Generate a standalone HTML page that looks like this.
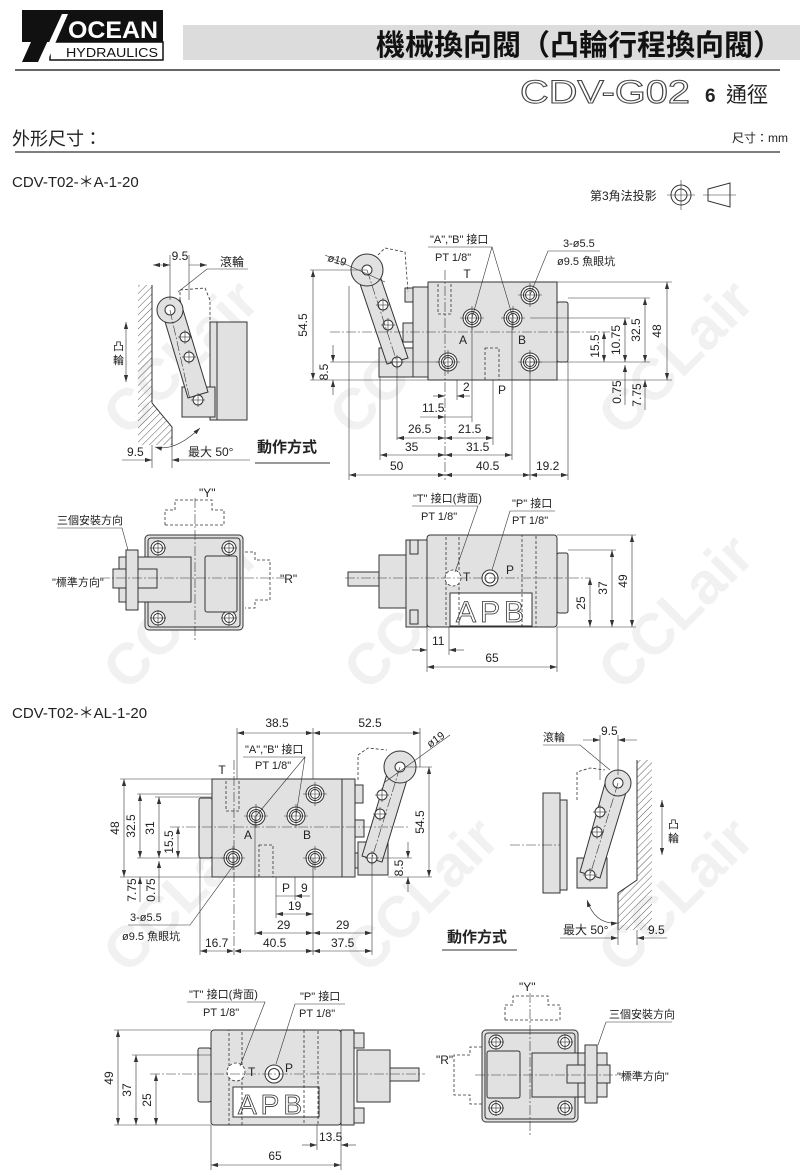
<!DOCTYPE html>
<html><head><meta charset="utf-8"><style>
html,body{margin:0;padding:0;background:#fff}
svg{display:block}
text{font-family:"Liberation Sans","Noto Sans CJK TC",sans-serif;fill:#222}
.o{fill:none;stroke:#333;stroke-width:1}
.g{fill:#e1e1e1;stroke:#333;stroke-width:1}
.w{fill:#fff;stroke:#333;stroke-width:1}
.d{fill:none;stroke:#333;stroke-width:.8;stroke-dasharray:3 2}
.c{fill:none;stroke:#333;stroke-width:.6;stroke-dasharray:10 2 2 2}
.t{fill:none;stroke:#333;stroke-width:.6}
.m{fill:none;stroke:#333;stroke-width:.6;marker-start:url(#a);marker-end:url(#a)}
.wm{font-family:"Liberation Sans",sans-serif;font-weight:bold;font-size:58px;fill:#f1f1f1}
.s{font-size:11px}
.s12{font-size:12px}
</style></head><body>
<svg width="800" height="1175" viewBox="0 0 800 1175" xmlns="http://www.w3.org/2000/svg">
<defs>
<marker id="a" viewBox="0 0 10 10" refX="10" refY="5" markerWidth="7" markerHeight="7" orient="auto-start-reverse" markerUnits="userSpaceOnUse"><path d="M0,2 L10,5 L0,8 z" fill="#333"/></marker>
<pattern id="h" width="5" height="5" patternUnits="userSpaceOnUse" patternTransform="rotate(45)"><line x1="0" y1="0" x2="0" y2="5" stroke="#333" stroke-width=".8"/></pattern>
<g id="port"><circle r="9" class="w"/><circle r="6.5" class="o"/><circle r="4.5" class="o"/><line x1="-12" y1="0" x2="12" y2="0" class="t"/><line x1="0" y1="-12" x2="0" y2="12" class="t"/></g>
<g id="bolt"><circle r="7" class="w"/><circle r="4.5" class="o"/><line x1="-8" y1="0" x2="8" y2="0" class="t"/><line x1="0" y1="-8" x2="0" y2="8" class="t"/></g>
<g id="pin"><circle r="5" class="w"/><line x1="-7" y1="0" x2="7" y2="0" class="t"/><line x1="0" y1="-7" x2="0" y2="7" class="t"/></g>
</defs>

<!-- watermarks -->
<g transform="rotate(-45)">
<text class="wm" x="-220" y="400">CCLair</text>
<text class="wm" x="-60" y="560">CCLair</text>
<text class="wm" x="130" y="750">CCLair</text>
<text class="wm" x="-400" y="580">CCLair</text>
<text class="wm" x="-230" y="750">CCLair</text>
<text class="wm" x="-50" y="930">CCLair</text>
<text class="wm" x="-600" y="780">CCLair</text>
<text class="wm" x="-430" y="950">CCLair</text>
<text class="wm" x="-250" y="1130">CCLair</text>
</g>

<!-- header -->
<rect x="22" y="10" width="141" height="32" fill="#111"/>
<polygon points="22,10 62,10 38,62 22,62 40,22 22,22" fill="#111"/>
<rect x="50" y="42" width="113" height="18" fill="#fff" stroke="#111" stroke-width="1.5"/>
<polygon points="40,62 62,14 68,14 47,62" fill="#fff"/>
<text x="68" y="38" textLength="90" lengthAdjust="spacingAndGlyphs" style="font-size:24px;font-weight:bold;fill:#fff">OCEAN</text>
<text x="66" y="57" textLength="92" lengthAdjust="spacingAndGlyphs" style="font-size:13px;fill:#111">HYDRAULICS</text>
<rect x="183" y="25" width="617" height="35" fill="#dcdcdc"/>
<text x="782" y="55" text-anchor="end" style="font-size:29px;font-weight:bold;fill:#111;font-family:'Noto Sans CJK TC',sans-serif">機械換向閥（凸輪行程換向閥）</text>
<line x1="15" y1="70" x2="780" y2="70" stroke="#333" stroke-width="1.5"/>
<text x="520" y="103" textLength="170" lengthAdjust="spacingAndGlyphs" style="font-size:32px;fill:#fff;stroke:#444;stroke-width:1">CDV-G02</text>
<text x="705" y="102" style="font-size:19px;font-weight:bold">6</text>
<text x="726" y="102" style="font-size:21px;font-family:'Noto Sans CJK TC',sans-serif">通徑</text>
<text x="12" y="145" style="font-size:18px;font-family:'Noto Sans CJK TC',sans-serif">外形尺寸：</text>
<text x="788" y="142" text-anchor="end" class="s12">尺寸：mm</text>
<line x1="15" y1="152" x2="780" y2="152" stroke="#333" stroke-width="1.2"/>

<text x="12" y="187" style="font-size:15px">CDV-T02-＊A-1-20</text>
<text x="590" y="200" class="s12">第3角法投影</text>
<circle cx="681" cy="195" r="10" class="o"/><circle cx="681" cy="195" r="6" class="o"/>
<line x1="667" y1="195" x2="695" y2="195" class="t"/><line x1="681" y1="180" x2="681" y2="210" class="t"/>
<polygon points="708,189 730,183 730,207 708,201" class="o"/>
<line x1="703" y1="195" x2="736" y2="195" class="t"/>

<!-- ===== Group 1 side view ===== -->
<polygon points="138,285 152,285 152,403 172,427 172,445 138,445" fill="url(#h)"/>
<polyline points="152,285 152,403 172,427 172,445" class="o"/>
<rect x="210" y="322" width="7" height="98" class="g"/>
<rect x="217" y="322" width="30" height="98" class="g"/>
<rect x="182" y="387" width="33" height="30" class="g"/>
<polygon points="160,305 180,300 208,392 188,398" class="g"/>
<circle cx="170" cy="310" r="13" class="g"/>
<circle cx="170" cy="310" r="5" class="w"/>
<use href="#pin" x="185" y="337"/><use href="#pin" x="189" y="357"/><use href="#pin" x="198" y="400"/>
<polyline points="180,300 180,290 205,288 210,300 210,322" class="d"/>
<line x1="170" y1="310" x2="190" y2="400" class="c"/>
<line x1="170" y1="255" x2="170" y2="300" class="t"/><line x1="189" y1="255" x2="189" y2="300" class="t"/>
<line x1="153" y1="265" x2="170" y2="265" class="m"/><line x1="189" y1="265" x2="207" y2="265" class="m" style="marker-start:none"/>
<text x="180" y="260" text-anchor="middle" class="s12">9.5</text>
<text x="220" y="266" class="s12">滾輪</text>
<polyline points="248,269 207,269 178,292" class="t"/>
<text x="113" y="350" class="s">凸</text><text x="113" y="364" class="s">輪</text>
<line x1="126" y1="322" x2="126" y2="382" class="m"/>
<line x1="152" y1="445" x2="152" y2="468" class="t"/><line x1="172" y1="445" x2="172" y2="468" class="t"/>
<line x1="122" y1="460" x2="152" y2="460" class="t" style="marker-end:url(#a)"/>
<line x1="172" y1="460" x2="250" y2="460" class="t" style="marker-start:url(#a)"/>
<text x="127" y="456" class="s12">9.5</text>
<text x="188" y="456" class="s12">最大 50°</text>
<path d="M155,447 Q175,452 200,428" class="t" style="marker-start:url(#a);marker-end:url(#a)"/>
<text x="257" y="452" style="font-size:15px;font-weight:bold">動作方式</text>
<line x1="255" y1="463" x2="330" y2="463" stroke="#333" stroke-width="1"/>

<!-- ===== Group 1 front view ===== -->
<rect x="428" y="282" width="129" height="98" class="g"/>
<rect x="557" y="302" width="11" height="60" rx="2" class="g"/>
<rect x="413" y="287" width="15" height="90" class="g"/>
<rect x="405" y="288" width="8" height="14" class="g"/><rect x="403" y="323" width="10" height="19" class="g"/><rect x="405" y="360" width="8" height="13" class="g"/>
<rect x="379" y="348" width="34" height="29" class="g"/>
<polygon points="357,275 378,270 408,358 387,364" class="g"/>
<circle cx="367" cy="270" r="16" class="g"/><circle cx="367" cy="270" r="5" class="w"/>
<use href="#pin" x="383" y="305"/><use href="#pin" x="388" y="325"/><use href="#pin" x="397" y="362"/>
<polyline points="378,255 385,248 405,252 408,292" class="d"/>
<line x1="367" y1="270" x2="397" y2="362" class="c"/>
<rect x="438" y="282" width="13" height="32" class="d"/><rect x="485" y="348" width="14" height="32" class="d"/>
<use href="#port" x="472" y="318"/><use href="#port" x="513" y="318"/>
<use href="#port" x="530" y="295"/><use href="#port" x="448" y="362"/><use href="#port" x="530" y="362"/>
<line x1="330" y1="332" x2="610" y2="332" class="c"/>
<line x1="445" y1="270" x2="445" y2="480" class="c"/>
<text x="467" y="278" text-anchor="middle" class="s12">T</text>
<text x="463" y="344" text-anchor="middle" class="s12">A</text>
<text x="522" y="344" text-anchor="middle" class="s12">B</text>
<text x="502" y="394" text-anchor="middle" class="s12">P</text>
<text x="430" y="243" class="s">"A","B" 接口</text>
<text x="435" y="261" class="s">PT 1/8"</text>
<polyline points="428,247 492,247 472,318" class="t"/><line x1="492" y1="247" x2="513" y2="318" class="t"/>
<text x="563" y="247" class="s">3-ø5.5</text>
<text x="557" y="265" class="s">ø9.5 魚眼坑</text>
<polyline points="600,251 548,251 530,295" class="t"/>
<text x="327" y="261" class="s" transform="rotate(15 327 261)">ø19</text>
<line x1="325" y1="255" x2="385" y2="282" class="t"/>
<line x1="310" y1="270" x2="367" y2="270" class="t"/><line x1="310" y1="380" x2="428" y2="380" class="t"/>
<line x1="330" y1="362" x2="440" y2="362" class="t"/>
<line x1="313" y1="270" x2="313" y2="380" class="m"/>
<text x="307" y="325" text-anchor="middle" class="s12" transform="rotate(-90 307 325)">54.5</text>
<line x1="333" y1="345" x2="333" y2="362" class="t" style="marker-end:url(#a)"/>
<line x1="333" y1="380" x2="333" y2="395" class="t" style="marker-start:url(#a)"/>
<text x="328" y="372" text-anchor="middle" class="s12" transform="rotate(-90 328 372)">8.5</text>
<line x1="557" y1="282" x2="672" y2="282" class="t"/><line x1="557" y1="380" x2="672" y2="380" class="t"/>
<line x1="568" y1="298" x2="650" y2="298" class="t"/><line x1="530" y1="318" x2="630" y2="318" class="t"/>
<line x1="530" y1="362" x2="650" y2="362" class="t"/>
<line x1="667" y1="282" x2="667" y2="380" class="m"/>
<text x="661" y="331" text-anchor="middle" class="s12" transform="rotate(-90 661 331)">48</text>
<line x1="645" y1="298" x2="645" y2="362" class="m"/>
<text x="640" y="330" text-anchor="middle" class="s12" transform="rotate(-90 640 330)">32.5</text>
<line x1="625" y1="318" x2="625" y2="362" class="m"/>
<text x="620" y="340" text-anchor="middle" class="s12" transform="rotate(-90 620 340)">10.75</text>
<line x1="604" y1="332" x2="604" y2="362" class="m"/>
<text x="599" y="346" text-anchor="middle" class="s12" transform="rotate(-90 599 346)">15.5</text>
<line x1="625" y1="365" x2="625" y2="405" class="t" style="marker-start:url(#a)"/>
<text x="621" y="392" text-anchor="middle" class="s12" transform="rotate(-90 621 392)">0.75</text>
<line x1="645" y1="380" x2="645" y2="410" class="t" style="marker-start:url(#a)"/>
<text x="641" y="395" text-anchor="middle" class="s12" transform="rotate(-90 641 395)">7.75</text>
<line x1="349" y1="286" x2="349" y2="480" class="t"/><line x1="380" y1="377" x2="380" y2="460" class="t"/>
<line x1="397" y1="362" x2="397" y2="440" class="t"/><line x1="457" y1="380" x2="457" y2="400" class="t"/>
<line x1="472" y1="318" x2="472" y2="422" class="t"/><line x1="493" y1="380" x2="493" y2="445" class="t"/>
<line x1="512" y1="318" x2="512" y2="460" class="t"/><line x1="530" y1="362" x2="530" y2="480" class="t"/>
<line x1="568" y1="362" x2="568" y2="480" class="t"/>
<line x1="433" y1="396" x2="445" y2="396" class="t" style="marker-end:url(#a)"/><line x1="457" y1="396" x2="470" y2="396" class="t" style="marker-start:url(#a)"/>
<text x="463" y="391" class="s12">2</text>
<line x1="420" y1="417" x2="445" y2="417" class="t" style="marker-end:url(#a)"/><line x1="445" y1="417" x2="472" y2="417" class="t"/>
<text x="422" y="412" class="s12">11.5</text>
<line x1="397" y1="438" x2="445" y2="438" class="m"/><line x1="445" y1="438" x2="493" y2="438" class="m"/>
<text x="408" y="433" class="s12">26.5</text><text x="458" y="433" class="s12">21.5</text>
<line x1="380" y1="455" x2="445" y2="455" class="m"/><line x1="445" y1="455" x2="512" y2="455" class="m"/>
<text x="405" y="451" class="s12">35</text><text x="466" y="451" class="s12">31.5</text>
<line x1="349" y1="475" x2="445" y2="475" class="m"/><line x1="445" y1="475" x2="530" y2="475" class="m"/><line x1="530" y1="475" x2="568" y2="475" class="m"/>
<text x="390" y="470" class="s12">50</text><text x="476" y="470" class="s12">40.5</text><text x="536" y="470" class="s12">19.2</text>

<!-- ===== Group 1 bottom-left view ===== -->
<rect x="145" y="535" width="98" height="95" rx="4" class="g"/>
<rect x="148" y="538" width="92" height="89" rx="3" class="o"/>
<use href="#bolt" x="158" y="548"/><use href="#bolt" x="229" y="548"/><use href="#bolt" x="158" y="618"/><use href="#bolt" x="229" y="618"/>
<rect x="205" y="556" width="32" height="56" rx="2" class="g"/>
<rect x="119" y="557" width="72" height="45" class="g"/>
<rect x="113" y="569" width="44" height="19" class="g"/>
<rect x="126" y="550" width="12" height="60" class="g"/>
<polyline points="165,525 165,510 175,510 175,500 212,500 212,510 224,510 224,525" class="d"/>
<line x1="165" y1="525" x2="224" y2="525" class="d"/>
<polyline points="245,552 255,552 255,560 270,560 270,600 255,600 255,608 245,608" class="d"/>
<line x1="195" y1="498" x2="195" y2="640" class="c"/>
<line x1="100" y1="578" x2="285" y2="578" class="c"/>
<text x="199" y="497" class="s12">"Y"</text>
<text x="280" y="583" class="s12">"R"</text>
<text x="57" y="524" class="s">三個安裝方向</text>
<polyline points="57,528 122,528 128,550" class="t"/>
<text x="52" y="586" class="s">"標準方向"</text>

<!-- ===== Group 1 bottom-right view ===== -->
<rect x="427" y="535" width="130" height="92" rx="3" class="g"/>
<rect x="557" y="553" width="11" height="60" rx="2" class="g"/>
<rect x="379" y="555" width="32" height="53" class="g"/>
<rect x="406" y="540" width="21" height="87" class="g"/>
<rect x="410" y="540" width="8" height="14" class="g"/><rect x="410" y="610" width="8" height="14" class="g"/>
<rect x="348" y="572" width="31" height="14" class="g"/>
<rect x="450" y="593" width="82" height="33" class="w"/>
<text x="456" y="622" style="font-size:30px;fill:#fff;stroke:#333;stroke-width:.8;letter-spacing:4px">APB</text>
<rect x="446" y="535" width="13" height="92" class="d"/><rect x="522" y="535" width="14" height="92" class="d"/>
<circle cx="453" cy="578" r="8" class="d" style="fill:#fff"/>
<circle cx="490" cy="578" r="8" class="w"/><circle cx="490" cy="578" r="5" class="o"/>
<line x1="345" y1="578" x2="590" y2="578" class="c"/>
<text x="463" y="581" class="s12">T</text><text x="506" y="574" class="s12">P</text>
<text x="413" y="502" class="s">"T" 接口(背面)</text>
<text x="421" y="520" class="s">PT 1/8"</text>
<polyline points="412,506 478,506 455,572" class="t"/>
<text x="512" y="507" class="s">"P" 接口</text>
<text x="512" y="524" class="s">PT 1/8"</text>
<polyline points="555,511 510,511 492,570" class="t"/>
<line x1="557" y1="535" x2="636" y2="535" class="t"/><line x1="568" y1="550" x2="616" y2="550" class="t"/>
<line x1="557" y1="627" x2="636" y2="627" class="t"/>
<line x1="632" y1="535" x2="632" y2="627" class="m"/>
<text x="627" y="581" text-anchor="middle" class="s12" transform="rotate(-90 627 581)">49</text>
<line x1="612" y1="550" x2="612" y2="627" class="m"/>
<text x="607" y="588" text-anchor="middle" class="s12" transform="rotate(-90 607 588)">37</text>
<line x1="590" y1="578" x2="590" y2="627" class="m"/>
<text x="585" y="603" text-anchor="middle" class="s12" transform="rotate(-90 585 603)">25</text>
<line x1="427" y1="627" x2="427" y2="672" class="t"/><line x1="449" y1="627" x2="449" y2="655" class="t"/><line x1="557" y1="627" x2="557" y2="672" class="t"/>
<line x1="412" y1="650" x2="427" y2="650" class="t" style="marker-end:url(#a)"/><line x1="449" y1="650" x2="464" y2="650" class="t" style="marker-start:url(#a)"/>
<text x="432" y="645" class="s12">11</text>
<line x1="427" y1="667" x2="557" y2="667" class="m"/>
<text x="492" y="662" text-anchor="middle" class="s12">65</text>

<!-- ===== Group 2 ===== -->
<text x="12" y="718" style="font-size:15px">CDV-T02-＊AL-1-20</text>
<rect x="212" y="779" width="130" height="98" class="g"/>
<rect x="199" y="798" width="13" height="60" rx="2" class="g"/>
<rect x="342" y="779" width="13" height="98" class="g"/>
<rect x="355" y="785" width="8" height="18" class="g"/><rect x="355" y="820" width="9" height="17" class="g"/><rect x="355" y="853" width="8" height="15" class="g"/>
<rect x="358" y="842" width="30" height="33" class="g"/>
<polygon points="390,764 410,770 382,862 362,856" class="g"/>
<circle cx="400" cy="767" r="16" class="g"/><circle cx="400" cy="767" r="5" class="w"/>
<use href="#pin" x="382" y="795"/><use href="#pin" x="380" y="814"/><use href="#pin" x="372" y="858"/>
<polyline points="358,780 358,755 368,748 387,750" class="d"/>
<line x1="400" y1="767" x2="372" y2="858" class="c"/>
<rect x="226" y="779" width="13" height="32" class="d"/><rect x="259" y="845" width="14" height="32" class="d"/>
<use href="#port" x="256" y="816"/><use href="#port" x="296" y="816"/>
<use href="#port" x="315" y="794"/><use href="#port" x="233" y="858"/><use href="#port" x="315" y="858"/>
<line x1="170" y1="827" x2="410" y2="827" class="c"/>
<line x1="234" y1="760" x2="234" y2="955" class="c"/>
<text x="222" y="774" text-anchor="middle" class="s12">T</text>
<text x="248" y="839" text-anchor="middle" class="s12">A</text>
<text x="307" y="839" text-anchor="middle" class="s12">B</text>
<text x="245" y="753" class="s">"A","B" 接口</text>
<text x="255" y="769" class="s">PT 1/8"</text>
<polyline points="243,757 305,757 256,816" class="t"/><line x1="305" y1="757" x2="296" y2="816" class="t"/>
<line x1="237" y1="728" x2="237" y2="779" class="t"/><line x1="313" y1="728" x2="313" y2="779" class="t"/><line x1="420" y1="728" x2="420" y2="767" class="t"/>
<line x1="237" y1="733" x2="313" y2="733" class="m"/><line x1="313" y1="733" x2="420" y2="733" class="m"/>
<text x="277" y="727" text-anchor="middle" class="s12">38.5</text><text x="370" y="727" text-anchor="middle" class="s12">52.5</text>
<text x="430" y="748" class="s" transform="rotate(-35 430 748)">ø19</text>
<line x1="385" y1="782" x2="450" y2="735" class="t"/>
<line x1="120" y1="779" x2="212" y2="779" class="t"/><line x1="120" y1="877" x2="212" y2="877" class="t"/>
<line x1="137" y1="794" x2="212" y2="794" class="t"/><line x1="155" y1="797" x2="212" y2="797" class="t"/>
<line x1="137" y1="858" x2="240" y2="858" class="t"/>
<line x1="124" y1="779" x2="124" y2="877" class="m"/>
<text x="119" y="828" text-anchor="middle" class="s12" transform="rotate(-90 119 828)">48</text>
<line x1="140" y1="794" x2="140" y2="858" class="m"/>
<text x="135" y="826" text-anchor="middle" class="s12" transform="rotate(-90 135 826)">32.5</text>
<line x1="159" y1="797" x2="159" y2="858" class="m"/>
<text x="154" y="828" text-anchor="middle" class="s12" transform="rotate(-90 154 828)">31</text>
<line x1="178" y1="827" x2="178" y2="858" class="m"/>
<text x="173" y="842" text-anchor="middle" class="s12" transform="rotate(-90 173 842)">15.5</text>
<line x1="140" y1="877" x2="140" y2="902" class="t" style="marker-start:url(#a)"/>
<text x="136" y="890" text-anchor="middle" class="s12" transform="rotate(-90 136 890)">7.75</text>
<line x1="159" y1="861" x2="159" y2="902" class="t" style="marker-start:url(#a)"/>
<text x="155" y="890" text-anchor="middle" class="s12" transform="rotate(-90 155 890)">0.75</text>
<text x="130" y="921" class="s">3-ø5.5</text>
<text x="122" y="940" class="s">ø9.5 魚眼坑</text>
<polyline points="128,925 190,925 233,866" class="t"/>
<line x1="405" y1="767" x2="432" y2="767" class="t"/><line x1="388" y1="877" x2="432" y2="877" class="t"/>
<line x1="380" y1="858" x2="412" y2="858" class="t"/>
<line x1="429" y1="767" x2="429" y2="877" class="m"/>
<text x="424" y="822" text-anchor="middle" class="s12" transform="rotate(-90 424 822)">54.5</text>
<line x1="408" y1="842" x2="408" y2="858" class="t" style="marker-end:url(#a)"/>
<line x1="408" y1="877" x2="408" y2="892" class="t" style="marker-start:url(#a)"/>
<text x="403" y="868" text-anchor="middle" class="s12" transform="rotate(-90 403 868)">8.5</text>
<line x1="200" y1="858" x2="200" y2="955" class="t"/><line x1="255" y1="816" x2="255" y2="935" class="t"/>
<line x1="276" y1="877" x2="276" y2="918" class="t"/><line x1="295" y1="877" x2="295" y2="900" class="t"/>
<line x1="313" y1="858" x2="313" y2="955" class="t"/><line x1="372" y1="858" x2="372" y2="955" class="t"/>
<line x1="276" y1="896" x2="295" y2="896" class="t"/><line x1="295" y1="896" x2="310" y2="896" class="t" style="marker-start:url(#a)"/>
<text x="282" y="892" class="s12">P</text><text x="301" y="892" class="s12">9</text>
<line x1="276" y1="914" x2="313" y2="914" class="m"/><text x="288" y="910" class="s12">19</text>
<line x1="255" y1="933" x2="313" y2="933" class="m"/><line x1="313" y1="933" x2="372" y2="933" class="m"/>
<text x="277" y="929" class="s12">29</text><text x="336" y="929" class="s12">29</text>
<line x1="200" y1="951" x2="234" y2="951" class="m"/><line x1="234" y1="951" x2="313" y2="951" class="m"/><line x1="313" y1="951" x2="372" y2="951" class="m"/>
<text x="205" y="947" class="s12">16.7</text><text x="263" y="947" class="s12">40.5</text><text x="331" y="947" class="s12">37.5</text>
<text x="447" y="942" style="font-size:15px;font-weight:bold">動作方式</text>
<line x1="442" y1="950" x2="517" y2="950" stroke="#333" stroke-width="1"/>

<!-- group 2 side view -->
<polygon points="637,760 652,760 652,930 618,930 618,893 637,880" fill="url(#h)"/>
<polyline points="637,760 637,880 618,893 618,930" class="o"/>
<rect x="543" y="793" width="17" height="100" class="g"/>
<rect x="560" y="800" width="7" height="90" class="g"/>
<rect x="577" y="858" width="30" height="30" class="g"/>
<polygon points="606,780 628,786 600,878 580,872" class="g"/>
<circle cx="618" cy="783" r="13" class="g"/><circle cx="618" cy="783" r="5" class="w"/>
<use href="#pin" x="600" y="812"/><use href="#pin" x="597" y="832"/><use href="#pin" x="590" y="875"/>
<polyline points="577,800 577,772 590,768 605,770" class="d"/>
<line x1="618" y1="783" x2="590" y2="875" class="c"/>
<line x1="510" y1="845" x2="560" y2="845" class="c"/>
<line x1="600" y1="735" x2="600" y2="780" class="t"/><line x1="618" y1="735" x2="618" y2="775" class="t"/>
<line x1="583" y1="740" x2="600" y2="740" class="t" style="marker-end:url(#a)"/><line x1="618" y1="740" x2="637" y2="740" class="t" style="marker-start:url(#a)"/>
<text x="601" y="735" class="s12">9.5</text>
<text x="543" y="741" class="s">滾輪</text>
<polyline points="543,745 580,745 610,770" class="t"/>
<text x="668" y="828" class="s">凸</text><text x="668" y="842" class="s">輪</text>
<line x1="662" y1="800" x2="662" y2="855" class="m"/>
<line x1="618" y1="930" x2="618" y2="945" class="t"/><line x1="637" y1="930" x2="637" y2="945" class="t"/>
<line x1="560" y1="938" x2="618" y2="938" class="t" style="marker-end:url(#a)"/>
<line x1="637" y1="938" x2="667" y2="938" class="t" style="marker-start:url(#a)"/>
<text x="563" y="934" class="s12">最大 50°</text><text x="648" y="934" class="s12">9.5</text>
<path d="M587,900 Q595,925 618,923" class="t" style="marker-start:url(#a);marker-end:url(#a)"/>

<!-- group 2 bottom-left -->
<rect x="211" y="1030" width="130" height="95" rx="3" class="g"/>
<rect x="198" y="1048" width="13" height="54" rx="2" class="g"/>
<rect x="341" y="1030" width="13" height="95" class="g"/>
<rect x="354" y="1033" width="10" height="15" class="g"/><rect x="354" y="1108" width="10" height="15" class="g"/>
<rect x="357" y="1050" width="33" height="52" class="g"/>
<rect x="390" y="1068" width="29" height="13" class="g"/>
<rect x="233" y="1087" width="86" height="30" class="w"/>
<text x="238" y="1114" style="font-size:28px;fill:#fff;stroke:#333;stroke-width:.8;letter-spacing:4px">APB</text>
<rect x="229" y="1030" width="13" height="95" class="d"/><rect x="304" y="1030" width="14" height="95" class="d"/>
<circle cx="236" cy="1072" r="9" class="d" style="fill:#fff"/>
<circle cx="274" cy="1074" r="9" class="w"/><circle cx="274" cy="1074" r="5.5" class="o"/>
<line x1="150" y1="1074" x2="425" y2="1074" class="c"/>
<text x="248" y="1076" class="s12">T</text><text x="285" y="1072" class="s12">P</text>
<text x="189" y="998" class="s">"T" 接口(背面)</text>
<text x="203" y="1016" class="s">PT 1/8"</text>
<polyline points="187,1002 265,1002 240,1066" class="t"/>
<text x="300" y="1000" class="s">"P" 接口</text>
<text x="299" y="1017" class="s">PT 1/8"</text>
<polyline points="345,1004 295,1004 276,1064" class="t"/>
<line x1="114" y1="1030" x2="211" y2="1030" class="t"/><line x1="132" y1="1055" x2="211" y2="1055" class="t"/>
<line x1="114" y1="1125" x2="211" y2="1125" class="t"/>
<line x1="118" y1="1030" x2="118" y2="1125" class="m"/>
<text x="113" y="1078" text-anchor="middle" class="s12" transform="rotate(-90 113 1078)">49</text>
<line x1="136" y1="1055" x2="136" y2="1125" class="m"/>
<text x="131" y="1090" text-anchor="middle" class="s12" transform="rotate(-90 131 1090)">37</text>
<line x1="156" y1="1074" x2="156" y2="1125" class="m"/>
<text x="151" y="1100" text-anchor="middle" class="s12" transform="rotate(-90 151 1100)">25</text>
<line x1="211" y1="1125" x2="211" y2="1170" class="t"/><line x1="317" y1="1125" x2="317" y2="1150" class="t"/><line x1="341" y1="1125" x2="341" y2="1170" class="t"/>
<line x1="302" y1="1145" x2="317" y2="1145" class="t" style="marker-end:url(#a)"/><line x1="341" y1="1145" x2="356" y2="1145" class="t" style="marker-start:url(#a)"/>
<text x="319" y="1141" class="s12">13.5</text>
<line x1="211" y1="1165" x2="341" y2="1165" class="m"/>
<text x="275" y="1160" text-anchor="middle" class="s12">65</text>

<!-- group 2 bottom-right -->
<rect x="482" y="1030" width="96" height="92" rx="4" class="g"/>
<rect x="485" y="1033" width="90" height="86" rx="3" class="o"/>
<use href="#bolt" x="496" y="1042"/><use href="#bolt" x="565" y="1042"/><use href="#bolt" x="496" y="1108"/><use href="#bolt" x="565" y="1108"/>
<rect x="487" y="1051" width="33" height="47" rx="2" class="g"/>
<rect x="532" y="1053" width="46" height="44" class="g"/>
<rect x="578" y="1053" width="29" height="44" class="g"/>
<rect x="567" y="1065" width="43" height="18" class="g"/>
<rect x="585" y="1045" width="12" height="58" class="g"/>
<polyline points="505,1020 505,1005 513,1005 513,996 548,996 548,1005 560,1005 560,1020" class="d"/>
<line x1="505" y1="1020" x2="560" y2="1020" class="d"/>
<polyline points="482,1047 470,1047 470,1055 454,1055 454,1095 470,1095 470,1104 482,1104" class="d"/>
<line x1="530" y1="993" x2="530" y2="1135" class="c"/>
<line x1="475" y1="1075" x2="640" y2="1075" class="c"/>
<text x="519" y="991" class="s12">"Y"</text>
<text x="436" y="1064" class="s12">"R"</text>
<text x="609" y="1018" class="s">三個安裝方向</text>
<polyline points="672,1022 606,1022 598,1045" class="t"/>
<text x="617" y="1080" class="s">"標準方向"</text>
</svg>
</body></html>
